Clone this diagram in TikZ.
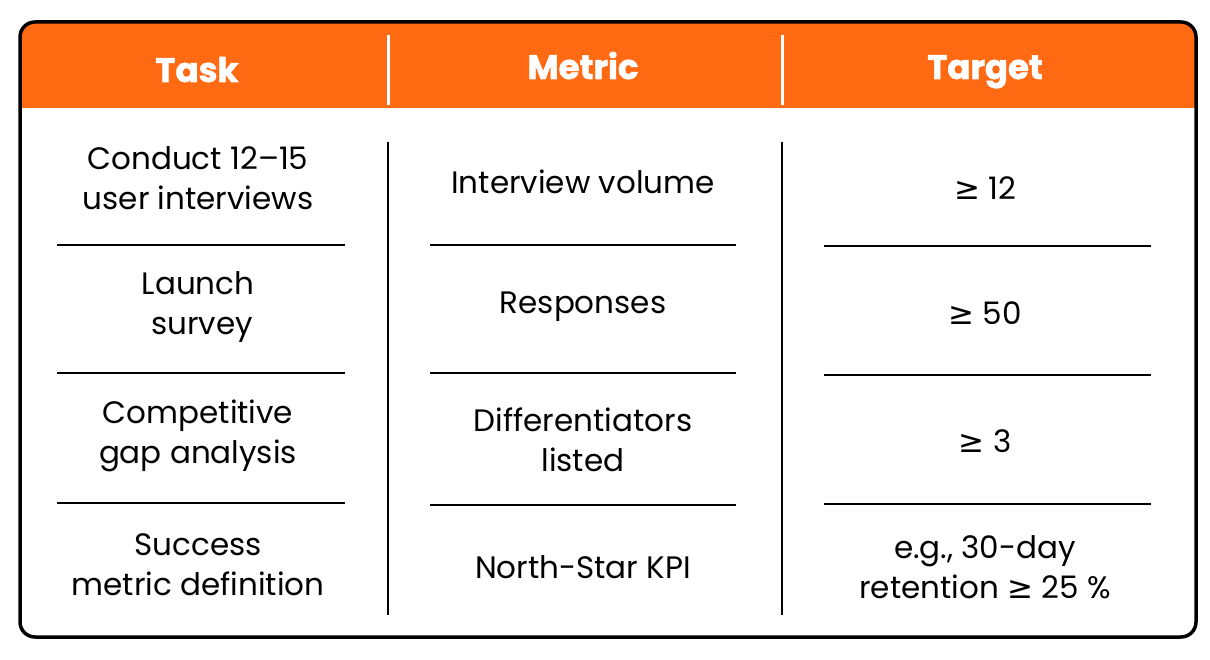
\documentclass[tikz,border=0pt]{standalone}
\usepackage{fontspec}
\setmainfont{Poppins}
\newfontfamily\dv{DejaVu Sans}
\newfontfamily\hb[BoldFont={* Bold},BoldFeatures={FakeBold=1.5}]{Poppins}
\newcommand{\gesym}{{\dv ≥}}
\definecolor{hdr}{HTML}{FF6A13}
\begin{document}
\begin{tikzpicture}[x=1pt,y=-1pt,
  cell/.style={align=center,font=\fontsize{31}{40}\selectfont,inner sep=0pt},
  head/.style={font=\hb\fontsize{34}{36}\selectfont\bfseries,text=white,inner sep=0pt,anchor=base},
  rule/.style={line width=1.5pt,black}]
\useasboundingbox (0,0) rectangle (1210,660);
\fill[white] (0,0) rectangle (1210,660);
\begin{scope}
\clip[rounded corners=15] (20,22) rectangle (1196,637);
\fill[hdr] (20,22) rectangle (1196,108);
\end{scope}
\draw[line width=3.5pt,rounded corners=15] (20,22) rectangle (1196,637);
\draw[white,line width=3pt] (388,35) -- (388,105) (782,35) -- (782,105);
\draw[line width=2.5pt] (388,142) -- (388,615) (782,142) -- (782,615);
\foreach \y in {245,373,503}{\draw[rule] (57,\y) -- (345,\y);}
\foreach \y in {245,373,505}{\draw[rule] (430,\y) -- (736,\y);}
\foreach \y in {246,375,504}{\draw[rule] (824,\y) -- (1151,\y);}
\node[head] (h1) at (197,82) {Task};
\node[head] (h2) at (583,79) {Metric};
\node[head] (h3) at (985,79) {Target};
\node[cell] (a1) at (198,178) {Conduct 12–15\\user interviews};
\node[cell] (a2) at (198,307) {Launch\\\ survey};
\node[cell] (a3) at (198,436) {Competitive\\gap analysis};
\node[cell] (a4) at (198,565) {Success\\metric definition};
\node[cell] (b1) at (583,182) {Interview volume};
\node[cell] (b2) at (583,307) {Responses};
\node[cell] (b3) at (583,440) {Differentiators\\listed};
\node[cell] (b4) at (583,567) {North-Star KPI};
\node[cell] (c1) at (985,188) {\gesym{} 12};
\node[cell] (c2) at (985,313) {\gesym{} 50};
\node[cell] (c3) at (985,441) {\gesym{} 3};
\node[cell] (c4) at (985,567) {e.g., 30-day\\retention \gesym{} 25 \%};
\end{tikzpicture}
\end{document}
